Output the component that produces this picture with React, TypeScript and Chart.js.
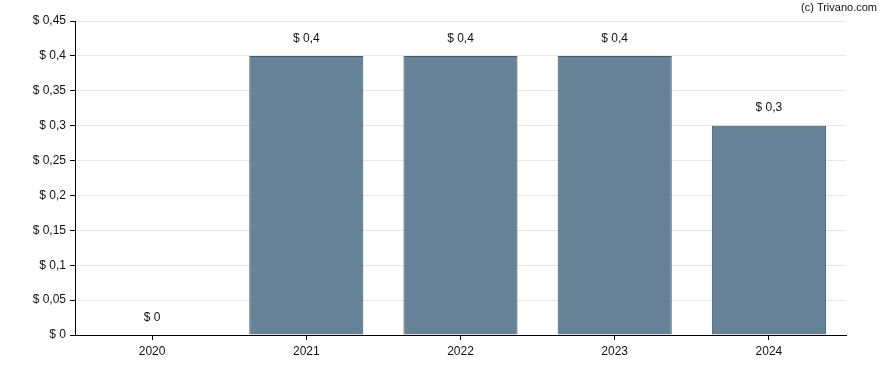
import React, { useEffect, useRef } from "react";
import { Chart, registerables } from "chart.js";

Chart.register(...registerables);

const categories = ["2020", "2021", "2022", "2023", "2024"];
const values = [0, 0.4, 0.4, 0.4, 0.3];
const yMin = 0;
const yMax = 0.45;
const yStep = 0.05;
const copyright = "(c) Trivano.com";

const fmt = (v: number) => "$ " + String(Math.round(v * 100) / 100).replace(".", ",");

const FONT = "'Liberation Sans', Arial, sans-serif";

const labelPlugin = {
  id: "barLabels",
  afterDatasetsDraw(chart: any) {
    const ctx = chart.ctx;
    const meta = chart.getDatasetMeta(0);
    ctx.save();
    ctx.font = `12px ${FONT}`;
    ctx.fillStyle = "#111";
    ctx.textAlign = "center";
    ctx.textBaseline = "middle";
    meta.data.forEach((el: any, i: number) => {
      ctx.fillText(fmt(values[i]), el.x, el.y - 17.5);
    });
    ctx.font = `11px ${FONT}`;
    ctx.textAlign = "right";
    ctx.fillText(copyright, 877, 8);
    ctx.restore();
  },
};

export default function App() {
  const ref = useRef<HTMLCanvasElement | null>(null);
  useEffect(() => {
    if (!ref.current) return;
    const chart = new Chart(ref.current, {
      type: "bar",
      data: {
        labels: categories,
        datasets: [
          {
            data: values,
            backgroundColor: "rgba(80,112,136,0.87)",
            borderColor: "#3f596e",
            borderWidth: 1,
            barPercentage: 0.74,
            categoryPercentage: 1,
          },
        ],
      },
      options: {
        animation: false,
        responsive: false,
        maintainAspectRatio: false,
        layout: { padding: { left: 0, right: 42, top: 21, bottom: 0 } },
        plugins: { legend: { display: false }, tooltip: { enabled: false } },
        scales: {
          x: {
            grid: {
              display: true,
              drawOnChartArea: false,
              offset: false,
              tickLength: 5,
              tickColor: "#000",
            },
            border: { color: "#000", width: 1 },
            ticks: { color: "#111", font: { family: FONT, size: 12 }, padding: 4 },
            afterFit: (s: any) => {
              s.height = 35;
            },
          },
          y: {
            min: yMin,
            max: yMax,
            grid: { color: "#e6e6e6", tickLength: 5, tickColor: "#000" },
            border: { color: "#000", width: 1 },
            ticks: {
              stepSize: yStep,
              color: "#111",
              font: { family: FONT, size: 12 },
              padding: 4,
              callback: (v: any) => fmt(Number(v)),
            },
            afterFit: (s: any) => {
              s.width = 75;
            },
          },
        },
      },
      plugins: [labelPlugin],
    });
    return () => chart.destroy();
  }, []);
  return (
    <div style={{ position: "absolute", left: 0, top: 0, width: 888, height: 370 }}>
      <canvas ref={ref} width={888} height={370} style={{ width: 888, height: 370 }} />
    </div>
  );
}
